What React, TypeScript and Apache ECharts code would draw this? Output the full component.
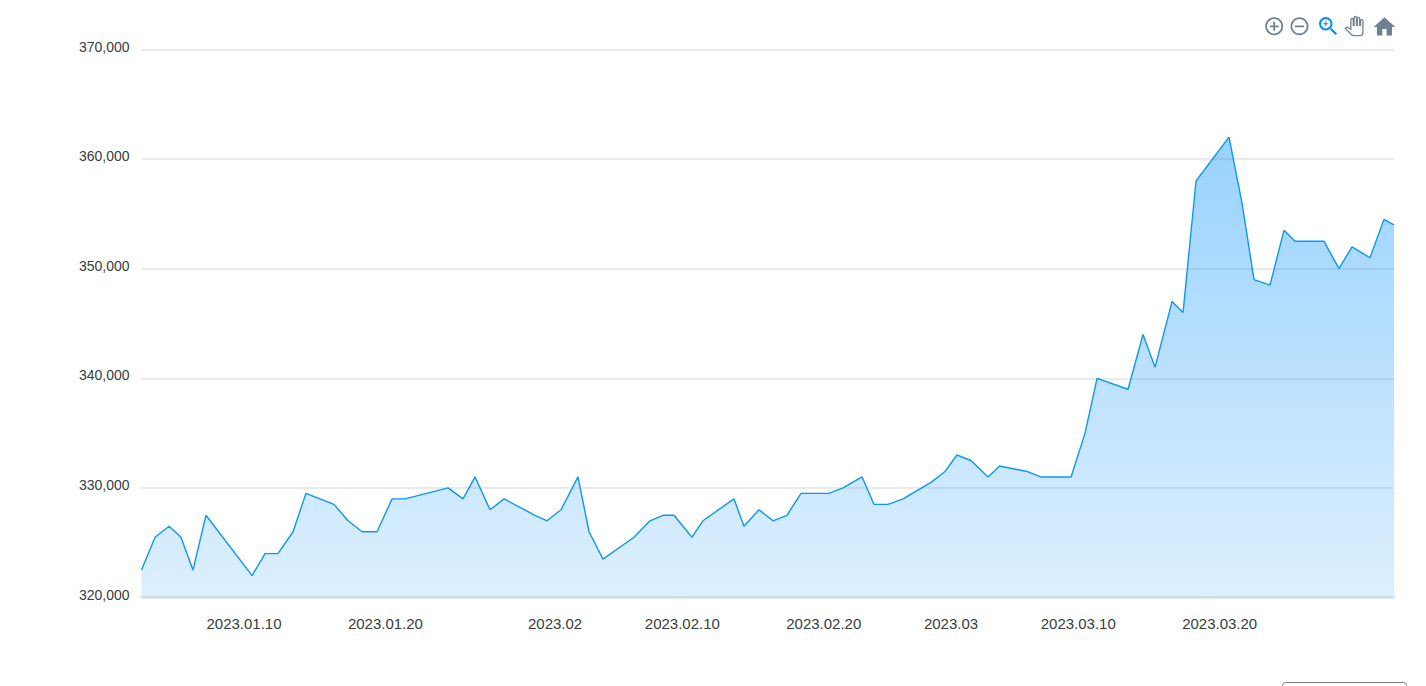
import React, { useEffect, useRef } from "react";
import * as echarts from "echarts";

// Position along the date axis as a (fractional) day of 2023
const dayOfYear = [
  2.75, 3.71, 4.7, 5.54, 6.39, 7.31, 10.57, 11.49, 12.4, 13.47, 14.38, 16.36, 17.36, 18.35, 19.41,
  20.47, 21.39, 24.43, 25.49, 26.34, 27.4, 28.39, 30.58, 31.43, 32.42, 33.62, 34.4, 35.39, 37.58,
  38.71, 39.63, 40.41, 41.68, 42.46, 44.65, 45.36, 46.42, 47.41, 48.4, 49.39, 51.37, 52.36, 53.71,
  54.55, 55.54, 56.61, 58.59, 59.58, 60.42, 61.41, 62.62, 63.43, 65.37, 66.36, 68.49, 69.48, 70.33,
  72.52, 73.58, 74.43, 75.63, 76.41, 77.33, 79.66, 80.58, 81.43, 82.56, 83.55, 84.33, 86.38, 87.44,
  88.36, 89.63, 90.62, 91.33,
];
const prices = [
  322500, 325500, 326500, 325500, 322500, 327500, 322000, 324000, 324000, 326000, 329500, 328500,
  327000, 326000, 326000, 329000, 329000, 330000, 329000, 331000, 328000, 329000, 327500, 327000,
  328000, 331000, 326000, 323500, 325500, 327000, 327500, 327500, 325500, 327000, 329000, 326500,
  328000, 327000, 327500, 329500, 329500, 330000, 331000, 328500, 328500, 329000, 330500, 331500,
  333000, 332500, 331000, 332000, 331500, 331000, 331000, 335000, 340000, 339000, 344000, 341000,
  347000, 346000, 358000, 362000, 356000, 349000, 348500, 353500, 352500, 352500, 350000, 352000,
  351000, 354500, 354000,
];
const tickDays = [10, 20, 32, 41, 51, 60, 69, 79];
const tickLabels = [
  "2023.01.10", "2023.01.20", "2023.02", "2023.02.10", "2023.02.20", "2023.03", "2023.03.10", "2023.03.20",
];

const ICONS: Record<string, string> = {
  tbZoomIn:
    "M13 7h-2v4H7v2h4v4h2v-4h4v-2h-4V7zm-1-5C6.48 2 2 6.48 2 12s4.48 10 10 10 10-4.48 10-10S17.52 2 12 2zm0 18c-4.41 0-8-3.59-8-8s3.59-8 8-8 8 3.59 8 8-3.59 8-8 8z",
  tbZoomOut:
    "M7 11v2h10v-2H7zm5-9C6.48 2 2 6.48 2 12s4.48 10 10 10 10-4.48 10-10S17.52 2 12 2zm0 18c-4.41 0-8-3.59-8-8s3.59-8 8-8 8 3.59 8 8-3.59 8-8 8z",
  tbSearch:
    "M15.5 14h-.79l-.28-.27C15.41 12.59 16 11.11 16 9.5 16 5.91 13.09 3 9.5 3S3 5.91 3 9.5 5.91 16 9.5 16c1.61 0 3.09-.59 4.23-1.57l.27.28v.79l5 4.99L20.49 19l-4.99-5zm-6 0C7.01 14 5 11.99 5 9.5S7.01 5 9.5 5 14 7.01 14 9.5 11.99 14 9.5 14z M12 10h-2v2H9v-2H7V9h2V7h1v2h2v1z",
  tbHand:
    "M23 5.5V20c0 2.2-1.8 4-4 4h-7.3c-1.08 0-2.1-.43-2.85-1.19L1 14.83s1.26-1.23 1.3-1.25c.22-.19.49-.29.79-.29.22 0 .42.06.6.16.04.01 4.31 2.46 4.31 2.46V4c0-.83.67-1.5 1.5-1.5S11 3.17 11 4v7h1V1.5c0-.83.67-1.5 1.5-1.5S15 .67 15 1.5V11h1V2.5c0-.83.67-1.5 1.5-1.5s1.5.67 1.5 1.5V11h1V5.5c0-.83.67-1.5 1.5-1.5s1.5.67 1.5 1.5z",
  tbHome: "M10 20v-6h4v6h5v-8h3L12 3 2 12h3v8z",
};
Object.keys(ICONS).forEach((k) => {
  echarts.graphic.registerShape(k, (echarts.graphic as any).extendPath(ICONS[k], {}));
});

export default function App() {
  const ref = useRef<HTMLDivElement>(null);
  useEffect(() => {
    const chart = echarts.init(ref.current!, undefined, { renderer: "svg" });
    const labelByDay = new Map(tickDays.map((d, i) => [d, tickLabels[i]]));
    chart.setOption({
      animation: false,
      grid: { left: 141.5, right: 32, top: 49.5, bottom: 88.5, containLabel: false },
      xAxis: {
        type: "value",
        min: dayOfYear[0],
        max: dayOfYear[dayOfYear.length - 1],
        axisLine: { show: true, onZero: false, lineStyle: { color: "#e6e6e6", width: 3 } },
        axisTick: { show: false },
        splitLine: { show: false },
        axisLabel: {
          customValues: tickDays,
          formatter: (v: number) => labelByDay.get(v) ?? "",
          color: "#373d3f",
          fontFamily: '"Liberation Sans", Arial, sans-serif',
          fontSize: 15,
          margin: 18,
          hideOverlap: false,
        },
      },
      yAxis: {
        type: "value",
        min: 320000,
        max: 370000,
        interval: 10000,
        axisLine: { show: false },
        axisTick: { show: false },
        splitLine: { show: true, lineStyle: { color: "#ebebeb", width: 2 } },
        axisLabel: {
          formatter: (v: number) => v.toLocaleString("en-US"),
          color: "#373d3f",
          fontFamily: '"Liberation Sans", Arial, sans-serif',
          fontSize: 14,
          margin: 12,
          verticalAlign: "bottom",
          lineHeight: 6,
        },
      },
      series: [
        {
          type: "line",
          data: dayOfYear.map((d, i) => [d, prices[i]]),
          symbol: "none",
          lineStyle: { color: "#0d96fb", width: 1.4 },
          areaStyle: {
            origin: "start",
            opacity: 1,
            color: new echarts.graphic.LinearGradient(0, 0, 0, 1, [
              { offset: 0, color: "rgba(0,143,251,0.4)" },
              { offset: 1, color: "rgba(0,143,251,0.135)" },
            ]),
          },
        },
      ],
      graphic: [
        { type: "tbZoomIn", x: 1263.4, y: 15.5, scaleX: 0.9, scaleY: 0.9, style: { fill: "#6e8192" } },
        { type: "tbZoomOut", x: 1288.7, y: 15.5, scaleX: 0.9, scaleY: 0.9, style: { fill: "#6e8192" } },
        { type: "tbSearch", x: 1316, y: 14, scaleX: 1.03, scaleY: 1.03, style: { fill: "#008ffb" } },
        {
          type: "tbHand",
          x: 1344.5,
          y: 16.5,
          scaleX: 0.8,
          scaleY: 0.8,
          style: { fill: "#ffffff", stroke: "#6e8192", lineWidth: 1.6 },
        },
        { type: "tbHome", x: 1371.5, y: 14, scaleX: 1.08, scaleY: 1.08, style: { fill: "#6e8192" } },
        {
          type: "rect",
          shape: { x: 1282.5, y: 682.5, width: 124, height: 24, r: 3 },
          style: { fill: "#ffffff", stroke: "#767676", lineWidth: 1 },
        },
      ],
    });
    return () => chart.dispose();
  }, []);
  return <div ref={ref} style={{ position: "absolute", left: 0, top: 0, width: 1426, height: 686 }} />;
}
